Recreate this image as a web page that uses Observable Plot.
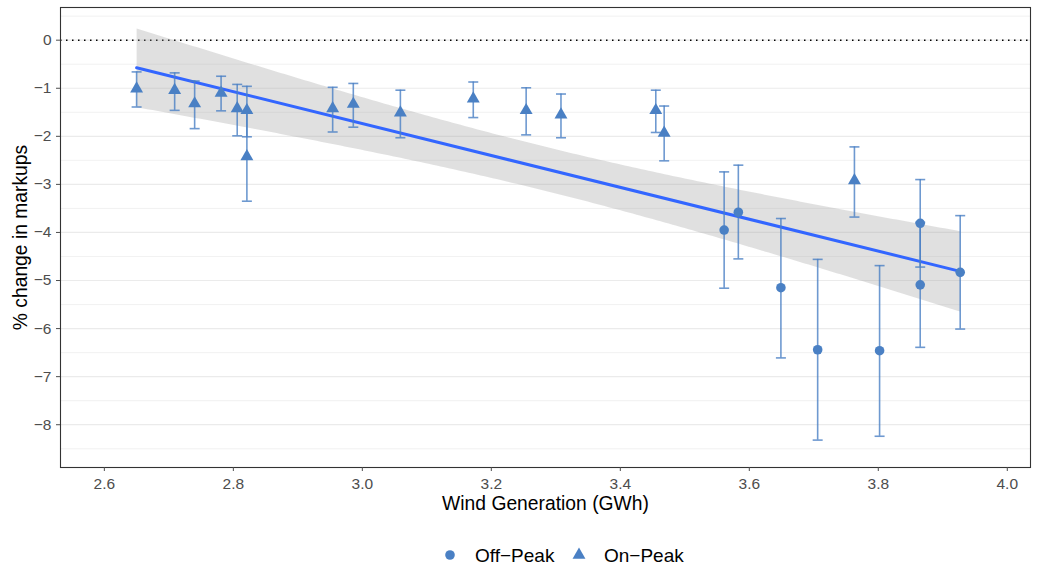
<!DOCTYPE html>
<html>
<head>
<meta charset="utf-8">
<script src="https://cdn.jsdelivr.net/npm/d3@7"></script>
<script src="https://cdn.jsdelivr.net/npm/@observablehq/plot@0.6"></script>
<style>
  body { margin: 0; background: #fff; font-family: "Liberation Sans", Arial, sans-serif; }
  #wrap { position: relative; width: 1043px; height: 567px; }
  #legend { position: absolute; left: 0; top: 525px; width: 1043px; height: 42px; }
</style>
</head>
<body>
<div id="wrap">
  <div id="chart"></div>
  <div id="legend"></div>
</div>
<script>
// On-Peak (triangles)
const onX  = [2.650, 2.709, 2.740, 2.781, 2.806, 2.821, 2.821, 2.954, 2.986, 3.059, 3.172, 3.254, 3.308, 3.455, 3.468, 3.763];
const onY  = [-1.01, -1.04, -1.32, -1.10, -1.42, -1.46, -2.42, -1.42, -1.33, -1.51, -1.22, -1.46, -1.55, -1.46, -1.93, -2.92];
const onHi = [-0.66, -0.68, -0.85, -0.75, -0.92, -0.96, -1.49, -0.98, -0.90, -1.04, -0.87, -0.99, -1.12, -1.04, -1.37, -2.22];
const onLo = [-1.39, -1.46, -1.84, -1.47, -1.99, -2.01, -3.35, -1.91, -1.81, -2.03, -1.61, -1.97, -2.03, -1.92, -2.51, -3.68];
// Off-Peak (circles)
const offX  = [3.561, 3.583, 3.649, 3.706, 3.802, 3.865, 3.865, 3.927];
const offY  = [-3.95, -3.58, -5.15, -6.44, -6.46, -3.81, -5.09, -4.83];
const offHi = [-2.74, -2.60, -3.71, -4.56, -4.69, -2.90, -3.79, -3.65];
const offLo = [-5.16, -4.55, -6.61, -8.32, -8.24, -4.72, -6.39, -6.01];

const xTicks = [2.6, 2.8, 3.0, 3.2, 3.4, 3.6, 3.8, 4.0];
const yTicks = [-8, -7, -6, -5, -4, -3, -2, -1, 0];
const yMinor = [-8.5, -7.5, -6.5, -5.5, -4.5, -3.5, -2.5, -1.5, -0.5, 0.5];
const seriesNames = ["Off\u2212Peak", "On\u2212Peak"];
const xTitle = "Wind Generation (GWh)";
const yTitle = "% change in markups";

const rows = [
  ...onX.map((x, i) => ({x, y: onY[i], lo: onLo[i], hi: onHi[i], s: "On"})),
  ...offX.map((x, i) => ({x, y: offY[i], lo: offLo[i], hi: offHi[i], s: "Off"}))
];

const blue = "#4A80C4";
const capSymbol = { draw(ctx, size) { ctx.moveTo(-5, 0); ctx.lineTo(5, 0); } };

const chart = Plot.plot({
  width: 1043,
  height: 525,
  marginLeft: 60,
  marginRight: 13,
  marginTop: 7,
  marginBottom: 58,
  style: { fontFamily: "Liberation Sans, Arial, sans-serif", background: "#fff" },
  x: { domain: [2.532, 4.036] },
  y: { domain: [-8.89, 0.68] },
  marks: [
    Plot.ruleY(yMinor, { stroke: "#EBEBEB", strokeWidth: 0.7 }),
    Plot.ruleY(yTicks, { stroke: "#EBEBEB", strokeWidth: 1.2 }),
    Plot.ruleY([0], { stroke: "#000", strokeWidth: 1.4, strokeDasharray: "1.5,4.5" }),
    Plot.linearRegressionY(rows, {
      x: "x", y: "y", ci: 0.95,
      stroke: "#3366FF", strokeWidth: 3,
      fill: "#999999", fillOpacity: 0.3
    }),
    Plot.ruleX(rows, { x: "x", y1: "lo", y2: "hi", stroke: blue, strokeOpacity: 0.8, strokeWidth: 1.6 }),
    Plot.dot(rows, { x: "x", y: "lo", symbol: capSymbol, stroke: blue, strokeOpacity: 0.8, strokeWidth: 1.6, fill: "none", r: 5 }),
    Plot.dot(rows, { x: "x", y: "hi", symbol: capSymbol, stroke: blue, strokeOpacity: 0.8, strokeWidth: 1.6, fill: "none", r: 5 }),
    Plot.dot(rows.filter(d => d.s === "Off"), { x: "x", y: "y", r: 4.8, fill: blue, stroke: "none" }),
    Plot.dot(rows.filter(d => d.s === "On"), { x: "x", y: "y", r: 4.8, symbol: "triangle", fill: blue, stroke: "none" }),
    Plot.frame({ stroke: "#333", strokeWidth: 1.1 }),
    Plot.axisX({ ticks: xTicks, tickFormat: d3.format(".1f"), tickSize: 4, tickPadding: 6, fontSize: 15.5, color: "#4D4D4D", label: null }),
    Plot.axisY({ ticks: yTicks, tickFormat: d3.format("d"), tickSize: 4, tickPadding: 5, fontSize: 15.5, color: "#4D4D4D", label: null }),
    Plot.text([xTitle], { text: d => d, frameAnchor: "bottom", dy: 36, lineAnchor: "middle", fontSize: 19.3, fill: "#000" }),
    Plot.text([yTitle], { text: d => d, frameAnchor: "left", dx: -40, rotate: -90, lineAnchor: "middle", textAnchor: "middle", fontSize: 19.3, fill: "#000" })
  ]
});
document.getElementById("chart").appendChild(chart);

// Legend
const legend = document.getElementById("legend");
legend.innerHTML = `
  <svg width="1043" height="42" style="position:absolute;left:0;top:0">
    <circle cx="450" cy="30" r="4.8" fill="${blue}"></circle>
    <path d="${d3.symbol(d3.symbolTriangle, Math.PI * 4.8 * 4.8)()}" transform="translate(579,30)" fill="${blue}"></path>
    <text x="475" y="30" dy="0.35em" font-size="19" font-family="Liberation Sans, Arial, sans-serif">${seriesNames[0]}</text>
    <text x="604" y="30" dy="0.35em" font-size="19" font-family="Liberation Sans, Arial, sans-serif">${seriesNames[1]}</text>
  </svg>`;
</script>
</body>
</html>
